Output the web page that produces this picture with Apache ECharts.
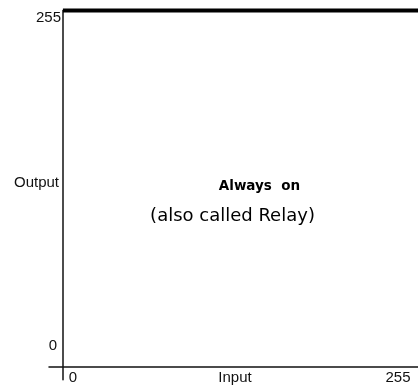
<!DOCTYPE html>
<html>
<head>
<meta charset="utf-8">
<script src="https://cdn.jsdelivr.net/npm/echarts@6/dist/echarts.min.js"></script>
<style>html,body{margin:0;padding:0;background:#fff;}#c{width:418px;height:389px;}</style>
</head>
<body>
<div id="c"></div>
<script>
var inputs = [0, 255];
var outputs = [255, 255];
var xTicks = [0, 255];
var yTicks = [0, 255];
var xName = 'Input';
var yName = 'Output';
var title = 'Always  on';
var subtitle = '(also called Relay)';

var chart = echarts.init(document.getElementById('c'));
var font = 'Liberation Sans, Arial, sans-serif';
chart.setOption({
  animation: false,
  backgroundColor: '#fff',
  grid: { left: 49, right: 0, top: 10.5, bottom: 9.3, outerBoundsMode: 'none', containLabel: false },
  xAxis: {
    type: 'value', min: -10, max: 255, offset: -13,
    name: xName, nameLocation: 'middle', nameGap: 4, nameMoveOverlap: false,
    nameTextStyle: { fontFamily: font, fontSize: 15, color: '#111', verticalAlign: 'top', padding: [0, 0, 0, 3] },
    axisLine: { show: true, onZero: false, lineStyle: { color: '#111', width: 1.5 } },
    axisTick: { show: false },
    splitLine: { show: false },
    axisLabel: {
      customValues: xTicks, margin: 4, fontFamily: font, fontSize: 15, color: '#111',
      formatter: function (v) { return v === 0 ? '{a|' + v + '}' : '{b|' + v + '}'; },
      rich: { a: { padding: [0, 0, 0, 20], fontFamily: font, fontSize: 15, color: '#111' },
              b: { padding: [0, 40, 0, 0], fontFamily: font, fontSize: 15, color: '#111' } }
    }
  },
  yAxis: {
    type: 'value', min: -32, max: 255,
    name: yName, nameLocation: 'middle', nameGap: -10, nameRotate: 0, nameMoveOverlap: false,
    nameTextStyle: { fontFamily: font, fontSize: 15, color: '#111', align: 'right', verticalAlign: 'bottom', lineHeight: 24 },
    axisLine: { show: true, onZero: true, lineStyle: { color: '#111', width: 1.5 } },
    axisTick: { show: false },
    splitLine: { show: false },
    axisLabel: {
      customValues: yTicks, margin: -12, fontFamily: font, fontSize: 15, color: '#111', verticalAlign: 'top',
      formatter: function (v) { return v === 0 ? '{a|' + v + '}' : '{b|' + v + '}'; },
      rich: { a: { padding: [0, 4, 0, 0], fontFamily: font, fontSize: 15, color: '#111', verticalAlign: 'top' },
              b: { fontFamily: font, fontSize: 15, color: '#111', verticalAlign: 'top' } }
    }
  },
  series: [{
    type: 'line',
    data: inputs.map(function (x, i) { return [x, outputs[i]]; }),
    symbol: 'none',
    clip: false,
    lineStyle: { color: '#000', width: 4 }
  }],
  graphic: [
    { type: 'text', style: { text: title, x: 259.5, y: 186, align: 'center', verticalAlign: 'middle',
      font: 'bold 13.5px "DejaVu Sans", Verdana, sans-serif', fill: '#000' } },
    { type: 'text', style: { text: subtitle, x: 232.5, y: 216, align: 'center', verticalAlign: 'middle',
      font: '18px "DejaVu Sans", Verdana, sans-serif', fill: '#000' } }
  ]
});
</script>
</body>
</html>
